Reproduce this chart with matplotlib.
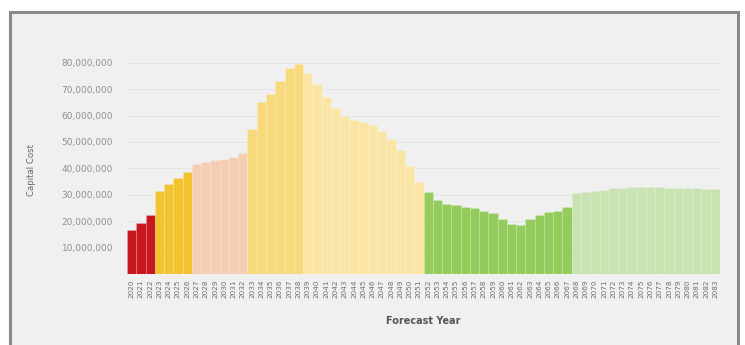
import matplotlib
matplotlib.use("Agg")
import matplotlib.pyplot as plt
from matplotlib.patches import Rectangle

years = list(range(2020, 2084))
categories = (["red"] * 3 + ["orange"] * 4 + ["pink"] * 6 + ["yellow"] * 6 +
              ["lightyellow"] * 13 + ["green"] * 16 + ["lightgreen"] * 16)
values_m = [16.5, 19.5, 22.5,
            31.5, 34.0, 36.5, 38.5,
            41.5, 42.5, 43.0, 43.5, 44.5, 46.0,
            55.0, 65.0, 68.0, 73.0, 78.0, 79.5,
            76.0, 72.0, 67.0, 63.0, 60.0, 58.5, 57.5, 56.5, 54.0, 51.0, 47.0, 41.0, 35.0,
            31.0, 28.0, 26.5, 26.0, 25.5, 25.0, 24.0, 23.0, 21.0, 19.0, 18.5, 21.0, 22.5, 23.5, 24.0, 25.5,
            30.5, 31.0, 31.5, 32.0, 32.5, 32.5, 32.8, 33.0, 33.0, 32.8, 32.5, 32.5, 32.5, 32.5, 32.3, 32.3]
values = [v * 1_000_000 for v in values_m]
y_ticks = [10_000_000, 20_000_000, 30_000_000, 40_000_000,
           50_000_000, 60_000_000, 70_000_000, 80_000_000]
palette = {"red": "#c8161d", "orange": "#f3c22f", "pink": "#f5cdb2",
           "yellow": "#f8da7c", "lightyellow": "#fbe5a4",
           "green": "#93cc5b", "lightgreen": "#c8e2b0"}

fig = plt.figure(figsize=(7.45, 3.45), dpi=100)
fig.patch.set_facecolor("white")
W, H = 745, 345

bg = fig.add_axes([0, 0, 1, 1], zorder=-5)
bg.set_xlim(0, W)
bg.set_ylim(H, 0)
bg.axis("off")
bg.add_patch(Rectangle((10, 12), 728, 345, facecolor="#f0f0f0",
                       edgecolor="#8a8a8a", linewidth=2.2))

ax = fig.add_axes([127 / W, 1 - 274 / H, (720 - 127) / W, (274 - 57.5) / H], zorder=1)
ax.set_facecolor("none")
x = list(range(len(years)))
colors = [palette[c] for c in categories]
ax.bar(x, values, width=1.0, color=colors, edgecolor=(1, 1, 1, 0.22),
       linewidth=0.5, zorder=2)
ax.set_xlim(-0.5, len(years) - 0.5)
ax.set_ylim(0, 82_000_000)
ax.set_yticks(y_ticks)
ax.set_yticklabels([f"{t:,}" for t in y_ticks], fontsize=6.5, color="#909090")
ax.set_xticks(x)
ax.set_xticklabels([str(yv) for yv in years], rotation=90, fontsize=5.2,
                   color="#6e6e6e")
ax.tick_params(axis="both", length=0, pad=4)
ax.tick_params(axis="y", pad=10)
ax.grid(axis="y", color="#e4e4e4", linewidth=0.7, zorder=0)
ax.set_axisbelow(True)
for s in ax.spines.values():
    s.set_visible(False)
ax.set_ylabel("Capital Cost", fontsize=6.2, color="#666666")
ax.yaxis.set_label_coords(-(127 - 36) / (720 - 127), 0.48)
ax.set_xlabel("Forecast Year", fontsize=7, color="#555555",
              fontweight="bold", labelpad=13)

fig.savefig("out.png", dpi=100, facecolor="white")
